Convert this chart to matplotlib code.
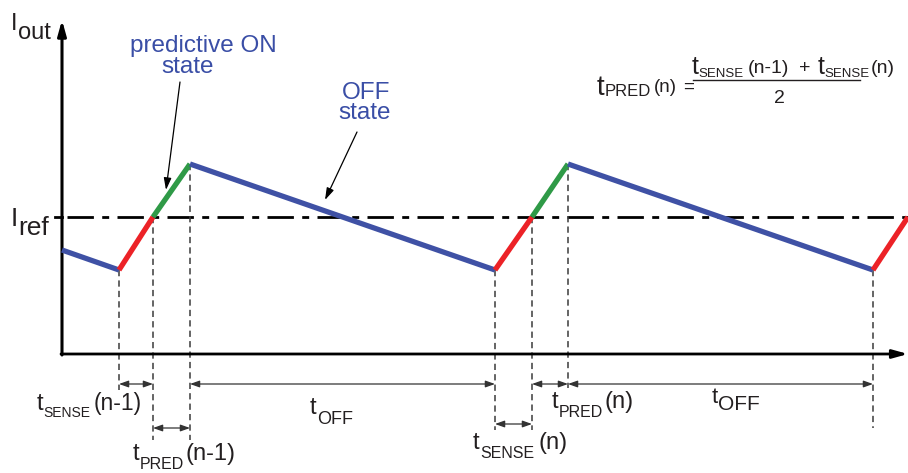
import matplotlib
matplotlib.use("Agg")
import matplotlib.pyplot as plt

plt.rcParams['font.family'] = ['Liberation Sans', 'DejaVu Sans']
plt.rcParams['lines.scale_dashes'] = False

# waveform vertices (picture units: px, y grows downwards)
wave_x = [62, 119, 153, 190, 495, 532, 568, 873, 908]
wave_y = [250, 270, 217, 164, 270, 217, 164, 270, 217]
seg_state = ['off', 'sense', 'pred', 'off', 'sense', 'pred', 'off', 'sense']
i_ref = 217

# bottom ends of the vertical guide lines (one per inner vertex)
guide_bottom = [390, 440, 440, 430, 430, 388, 428]

# dimension arrows: (start vertex, end vertex, height)
dims = [(1, 2, 384), (2, 3, 428), (3, 4, 384), (4, 5, 424), (5, 6, 384), (6, 7, 384)]

state_col = {'off': '#3f51a5', 'sense': '#ec2227', 'pred': '#2f9a47'}
ink = '#231f20'
blue_txt = '#3a4ea6'

fig = plt.figure(figsize=(9.08, 4.73), dpi=100)
ax = fig.add_axes([0, 0, 1, 1])
ax.set_xlim(0, 908)
ax.set_ylim(473, 0)
ax.axis('off')
rend = fig.canvas.get_renderer()


def run(x, y, pieces, color=ink):
    # pieces: (text, size, dy, gap after)
    for s, size, dy, gap in pieces:
        t = ax.text(x, y + dy, s, fontsize=size, color=color, ha='left', va='baseline')
        x += t.get_window_extent(rend).width + gap
    return x


# axes with arrows
ax.annotate('', xy=(62, 20), xytext=(62, 355),
            arrowprops=dict(arrowstyle='-|>,head_length=0.9,head_width=0.25', lw=2.2,
                            color='k', shrinkA=0, shrinkB=0, mutation_scale=10))
ax.annotate('', xy=(908, 354), xytext=(61, 354),
            arrowprops=dict(arrowstyle='-|>,head_length=0.9,head_width=0.25', lw=2,
                            color='k', shrinkA=0, shrinkB=0, mutation_scale=10))

# reference level
ax.plot([55, 62], [i_ref, i_ref], color='k', lw=2)
ax.plot([67, 908], [i_ref, i_ref], color='k', lw=2, linestyle=(0, (19, 6, 5, 6)))

# guide lines
for k, yb in enumerate(guide_bottom):
    xv = wave_x[k + 1]
    ax.plot([xv, xv], [wave_y[k + 1], yb], color='#3a3a3a', lw=1.1, linestyle=(0, (4.5, 3)), zorder=2)

# waveform
for k, st in enumerate(seg_state):
    ax.plot(wave_x[k:k + 2], wave_y[k:k + 2], color=state_col[st], lw=3.8,
            solid_capstyle='butt', zorder=4)

# dimension arrows
for a, b, yd in dims:
    ax.annotate('', xy=(wave_x[b], yd), xytext=(wave_x[a], yd),
                arrowprops=dict(arrowstyle='<|-|>,head_length=0.7,head_width=0.25', lw=0.9,
                                color='#333333', shrinkA=0, shrinkB=0, mutation_scale=8))

# state pointers
ax.annotate('', xy=(166, 190), xytext=(180, 82),
            arrowprops=dict(arrowstyle='-|>,head_length=0.8,head_width=0.25', lw=0.9,
                            color='k', shrinkA=0, shrinkB=0, mutation_scale=9))
ax.annotate('', xy=(325, 200), xytext=(357, 132),
            arrowprops=dict(arrowstyle='-|>,head_length=0.8,head_width=0.25', lw=0.9,
                            color='k', shrinkA=0, shrinkB=0, mutation_scale=9))

ax.text(130, 52, 'predictive ON', fontsize=17.5, color=blue_txt, ha='left', va='baseline')
ax.text(161, 73, 'state', fontsize=17.5, color=blue_txt, ha='left', va='baseline')
ax.text(342, 99, 'OFF', fontsize=17.5, color=blue_txt, ha='left', va='baseline')
ax.text(338, 119, 'state', fontsize=17.5, color=blue_txt, ha='left', va='baseline')

# axis names
ax.text(11, 30, 'I', fontsize=17, color=ink, va='baseline')
ax.text(18, 39, 'out', fontsize=17, color=ink, va='baseline')
ax.text(11, 226, 'I', fontsize=19, color=ink, va='baseline')
ax.text(18, 235, 'ref', fontsize=19, color=ink, va='baseline')

# time labels
run(37, 410, [('t', 17, 0, 0), ('SENSE', 10, 7, 3), ('(n-1)', 16.5, 0, 0)])
run(133, 460, [('t', 17, 0, 0), ('PRED', 11.5, 9, 2), ('(n-1)', 17, 0, 0)])
run(310, 414, [('t', 17, 0, 0), ('OFF', 13, 10, 0)])
run(473, 449, [('t', 17, 0, 1), ('SENSE', 11.5, 9, 4), ('(n)', 17, 0, 0)])
run(552, 408, [('t', 17, 0, 0), ('PRED', 11.5, 9, 2), ('(n)', 17, 0, 0)])
run(712, 403, [('t', 16, 0, 0), ('OFF', 15, 7, 0)])

# formula
run(597, 95, [('t', 20, 0, 0), ('PRED', 12, 1, 3), ('(n)', 13.5, -3, 6), ('=', 13.5, -3, 0)])
run(692, 74, [('t', 18, 0, 0), ('SENSE', 9.5, 3, 4), ('(n-1)', 14, -1, 10), ('+', 14, -1, 7),
              ('t', 18, 0, 0), ('SENSE', 9.5, 3, 1), ('(n)', 14, -1, 0)])
ax.plot([693, 860], [80, 80], color=ink, lw=1)
ax.text(779, 103, '2', fontsize=14, color=ink, ha='center', va='baseline')

fig.savefig('out.png', dpi=100)
